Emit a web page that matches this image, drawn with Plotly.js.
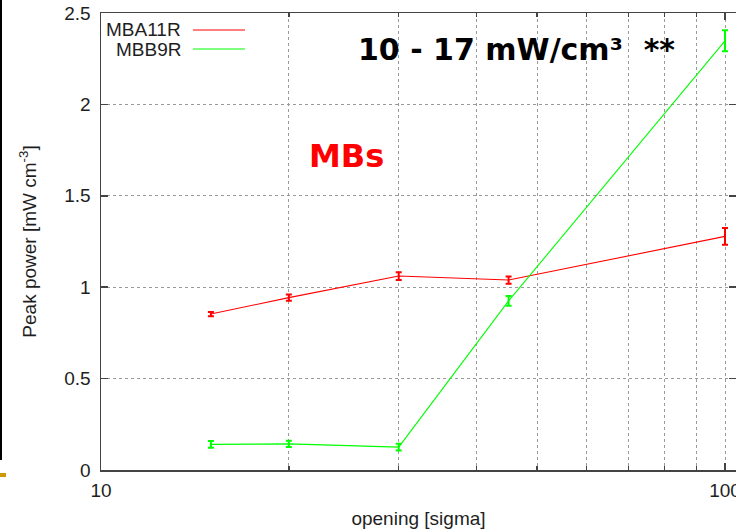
<!DOCTYPE html>
<html>
<head>
<meta charset="utf-8">
<script src="https://cdn.plot.ly/plotly-3.0.1.min.js"></script>
<style>html,body{margin:0;padding:0;background:#fff;}#chart{width:736px;height:530px;}</style>
</head>
<body>
<div id="chart"></div>
<script>
// ---- data ----
const openingSigma = [15, 20, 30, 45, 100];
const mba11r = [0.853, 0.943, 1.061, 1.039, 1.278];
const mba11rErr = [0.012, 0.017, 0.021, 0.020, 0.046];
const mbb9r = [0.140, 0.143, 0.125, 0.925, 2.348];
const mbb9rErr = [0.018, 0.017, 0.019, 0.027, 0.057];
const seriesNames = ['MBA11R', 'MBB9R'];
const xTickVals = [10, 100];
const xTickText = ['10', '100'];
const xMinorVals = [20, 30, 40, 50, 60, 70, 80, 90];
const yTickVals = [0, 0.5, 1, 1.5, 2, 2.5];
const yTickText = ['0', '0.5', '1', '1.5', '2', '2.5'];

// ---- layout geometry (pixels) ----
const W = 736, H = 530, L = 101, R = 0, T = 13, B = 60;
const pw = W - L - R, ph = H - T - B;
const px = x => (x - L) / pw;
const py = y => (H - B - y) / ph;

const RED = '#ff0000', GREEN = '#00ff00';
const FONT = 'Liberation Sans, Arial, sans-serif';
const TXT = '#1e1e1e';

function trace(y, err, name, color) {
  return {
    x: openingSigma, y: y, name: name, type: 'scatter', mode: 'lines',
    line: {color: color, width: 1.1},
    error_y: {type: 'data', array: err, visible: true, color: color, thickness: 2, width: 3},
    showlegend: false
  };
}

const data = [
  trace(mba11r, mba11rErr, seriesNames[0], RED),
  trace(mbb9r, mbb9rErr, seriesNames[1], GREEN)
];

const gridCol = '#9a9a9a';
const layout = {
  width: W, height: H,
  margin: {l: L, r: R, t: T, b: B, pad: 0},
  paper_bgcolor: '#fff', plot_bgcolor: '#fff',
  font: {family: FONT, size: 19, color: TXT},
  showlegend: false,
  xaxis: {
    type: 'log', range: [1, 1 + 635 / 624], autorange: false,
    tickmode: 'array', tickvals: xTickVals, ticktext: xTickText,
    ticks: 'inside', ticklen: 7, tickwidth: 1.5, tickcolor: '#444',
    showline: true, linecolor: '#444', linewidth: 1.5, mirror: 'ticks',
    showgrid: true, gridcolor: gridCol, griddash: 'dot', gridwidth: 1,
    zeroline: false, ticklabelstandoff: 3, ticklabeloverflow: 'allow',
    tickfont: {family: FONT, size: 19, color: TXT},
    minor: {tickmode: 'array', tickvals: xMinorVals, ticks: 'inside', ticklen: 4,
            tickwidth: 1.5, tickcolor: '#444', showgrid: true, gridcolor: gridCol,
            griddash: 'dot', gridwidth: 1},
    title: {text: 'opening [sigma]', font: {family: FONT, size: 19, color: TXT}, standoff: 11}
  },
  yaxis: {
    range: [0, 2.5], autorange: false,
    tickmode: 'array', tickvals: yTickVals, ticktext: yTickText,
    ticks: 'inside', ticklen: 7, tickwidth: 1.5, tickcolor: '#444',
    showline: true, linecolor: '#444', linewidth: 1.5, mirror: 'ticks',
    showgrid: true, gridcolor: gridCol, griddash: 'dot', gridwidth: 1,
    zeroline: false, ticklabelstandoff: 5, ticklabeloverflow: 'allow',
    tickfont: {family: FONT, size: 19, color: TXT},
    title: {text: 'Peak power [mW cm<sup>-3</sup>]', font: {family: FONT, size: 19, color: TXT}, standoff: 22}
  },
  shapes: [
    // legend line samples
    {type: 'line', xref: 'paper', yref: 'paper', x0: px(193), x1: px(245), y0: py(30), y1: py(30), line: {color: RED, width: 1.1}},
    {type: 'line', xref: 'paper', yref: 'paper', x0: px(193), x1: px(245), y0: py(49), y1: py(49), line: {color: GREEN, width: 1.1}},
    // slide decorations on the left edge
    {type: 'rect', xref: 'paper', yref: 'paper', x0: px(0), x1: px(2), y0: py(460), y1: py(0), fillcolor: '#000', line: {width: 0}},
    {type: 'rect', xref: 'paper', yref: 'paper', x0: px(0), x1: px(6), y0: py(477), y1: py(473), fillcolor: '#cc9900', line: {width: 0}}
  ],
  annotations: [
    {xref: 'paper', yref: 'paper', x: px(183), y: py(30), xanchor: 'right', yanchor: 'middle', showarrow: false,
     text: seriesNames[0], font: {family: FONT, size: 19, color: TXT}},
    {xref: 'paper', yref: 'paper', x: px(183), y: py(49), xanchor: 'right', yanchor: 'middle', showarrow: false,
     text: seriesNames[1], font: {family: FONT, size: 19, color: TXT}},
    {xref: 'paper', yref: 'paper', x: px(356), y: py(49), xanchor: 'left', yanchor: 'middle', showarrow: false,
     text: '<b>10 - 17 mW/cm³\u00a0\u00a0**</b>', font: {family: 'DejaVu Sans, Verdana, sans-serif', size: 30, color: '#000'}},
    {xref: 'paper', yref: 'paper', x: px(346), y: py(156), xanchor: 'center', yanchor: 'middle', showarrow: false,
     text: '<b>MBs</b>', font: {family: 'DejaVu Sans, Verdana, sans-serif', size: 32, color: '#ff0000'}}
  ]
};

Plotly.newPlot('chart', data, layout, {displayModeBar: false, staticPlot: true});
</script>
</body>
</html>
